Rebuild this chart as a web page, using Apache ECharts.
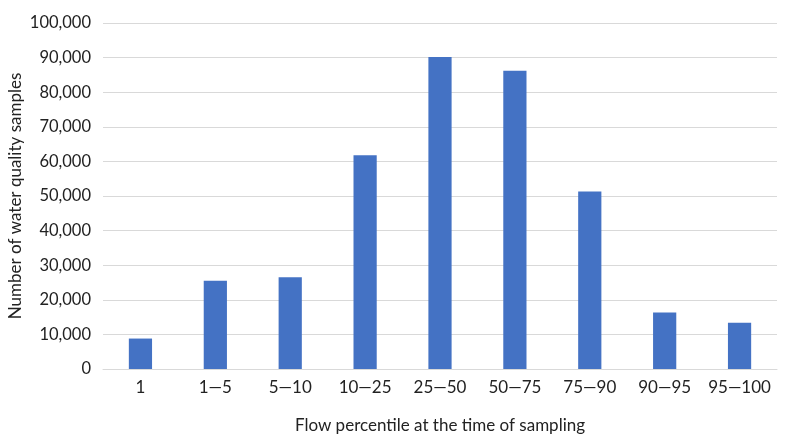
<!DOCTYPE html>
<html>
<head>
<meta charset="utf-8">
<script src="https://cdn.jsdelivr.net/npm/echarts@6/dist/echarts.min.js"></script>
<style>
html, body { margin:0; padding:0; background:#fff; }
#main { width:800px; height:445px; }
</style>
</head>
<body>
<div id="main"></div>
<script type="text/javascript">
// 流量百分位分组
var categories = ['1', '1\u20145', '5\u201410', '10\u201425', '25\u201450', '50\u201475', '75\u201490', '90\u201495', '95\u2014100'];
// 各组水质样本数
var samples = [8800, 25500, 26500, 61800, 90200, 86200, 51300, 16300, 13400];

var myChart = echarts.init(document.getElementById('main'));
var option = {
    animation: false,
    textStyle: { fontFamily: 'Lato, "Noto Sans", sans-serif' },
    grid: { left: 103, right: 23, top: 23, bottom: 76, containLabel: false, outerBoundsMode: 'none' },
    xAxis: {
        type: 'category',
        data: categories,
        name: 'Flow percentile at the time of sampling',
        nameLocation: 'middle',
        nameGap: 48,
        nameTextStyle: { fontSize: 17, color: '#222' },
        axisLine: { lineStyle: { color: '#d9d9d9', width: 1 } },
        axisTick: { show: false },
        axisLabel: { fontSize: 17, color: '#222', margin: 10, interval: 0 }
    },
    yAxis: {
        type: 'value',
        min: 0,
        max: 100000,
        interval: 10000,
        name: 'Number of water quality samples',
        nameLocation: 'middle',
        nameGap: 79,
        nameMoveOverlap: false,
        nameTextStyle: { fontSize: 17, color: '#222' },
        axisLine: { show: false },
        axisTick: { show: false },
        splitLine: { lineStyle: { color: '#d9d9d9', width: 1 } },
        axisLabel: {
            fontSize: 16.5, color: '#222', margin: 12,
            formatter: function (v) { return v.toLocaleString('en-US'); }
        }
    },
    series: [{
        type: 'bar',
        data: samples,
        barWidth: '31%',
        itemStyle: { color: '#4472C4' }
    }]
};
myChart.setOption(option);
</script>
</body>
</html>
